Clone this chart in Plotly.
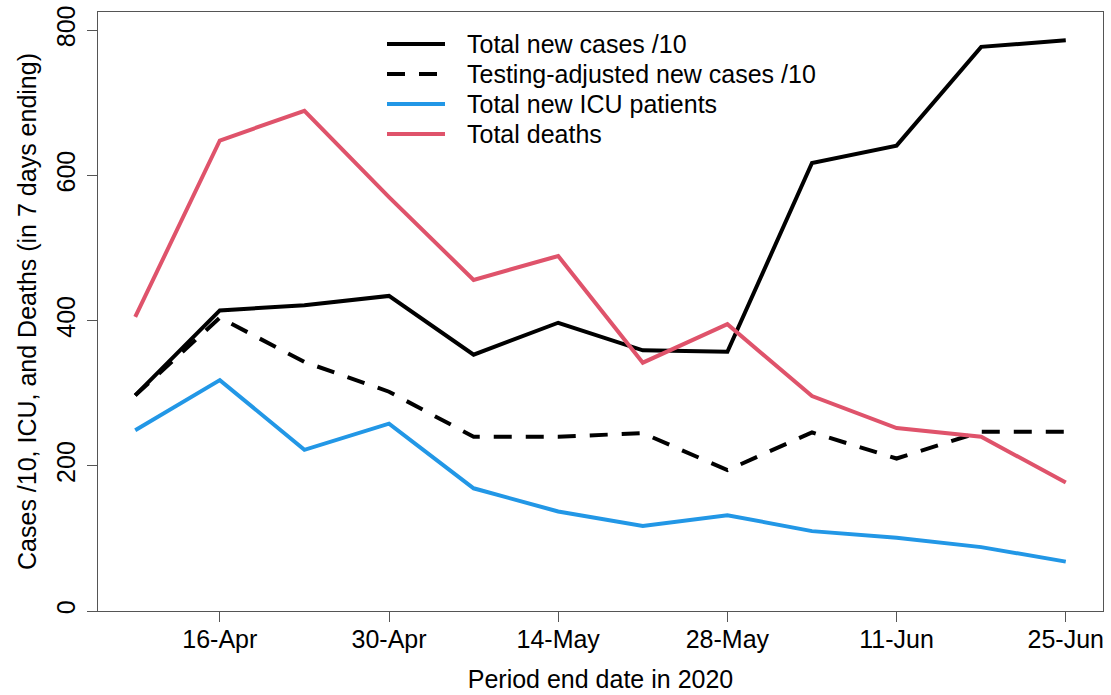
import pandas as pd
import plotly.graph_objects as go

dates = ["2020-04-09", "2020-04-16", "2020-04-23", "2020-04-30", "2020-05-07", "2020-05-14",
         "2020-05-21", "2020-05-28", "2020-06-04", "2020-06-11", "2020-06-18", "2020-06-25"]
total_cases_10 = [297, 414, 421, 434, 353, 397, 359, 357, 617, 641, 777, 786]
adj_cases_10 = [297, 404, 343, 302, 240, 240, 245, 194, 246, 210, 247, 247]
icu = [249, 318, 222, 258, 169, 137, 117, 132, 110, 101, 88, 68]
deaths = [405, 648, 689, 570, 456, 489, 342, 395, 296, 252, 240, 177]

tick_dates = ["2020-04-16", "2020-04-30", "2020-05-14", "2020-05-28", "2020-06-11", "2020-06-25"]
tick_labels = ["16-Apr", "30-Apr", "14-May", "28-May", "11-Jun", "25-Jun"]
y_ticks = [0, 200, 400, 600, 800]

series_names = ["Total new cases /10", "Testing-adjusted new cases /10",
                "Total new ICU patients", "Total deaths"]
series_colors = ["black", "black", "#2297E6", "#DF536B"]
series_dash = ["solid", "18px,14px", "solid", "solid"]
series_values = [total_cases_10, adj_cases_10, icu, deaths]

FONT = "Liberation Sans, Arial, sans-serif"
LW = 4

W, H = 1111, 695
ML, MR, MT, MB = 98, 8, 12, 84

fig = go.Figure()
for name, vals, col, dsh in zip(series_names, series_values, series_colors, series_dash):
    fig.add_trace(go.Scatter(x=dates, y=vals, mode="lines", name=name, showlegend=False,
                             line=dict(color=col, width=LW, dash=dsh)))

# legend drawn in R style (no box): key line then text
pw, ph = W - ML - MR, H - MT - MB
def px2paper_x(px):
    return (px - ML) / pw
def px2paper_y(py):
    return (H - MB - py) / ph

leg_top, leg_step = 44, 30
for i, (name, col, dsh) in enumerate(zip(series_names, series_colors, series_dash)):
    yy = px2paper_y(leg_top + i * leg_step)
    fig.add_shape(type="line", xref="paper", yref="paper",
                  x0=px2paper_x(387), x1=px2paper_x(445), y0=yy, y1=yy,
                  line=dict(color=col, width=LW, dash=dsh))
    fig.add_annotation(xref="paper", yref="paper", x=px2paper_x(465), y=yy,
                       xanchor="left", yanchor="middle", text=name, showarrow=False,
                       font=dict(size=25, family=FONT, color="black"))

d0 = pd.Timestamp(dates[0]); d1 = pd.Timestamp(dates[-1])
pad = (d1 - d0) * 0.04
xr = [str(d0 - pad), str(d1 + pad)]

axis_common = dict(showgrid=False, zeroline=False, showline=True, linecolor="#555",
                   linewidth=1, mirror=True, ticks="outside", ticklen=10, tickcolor="#555",
                   tickwidth=1, automargin=False,
                   tickfont=dict(size=25, color="black", family=FONT))

fig.update_layout(
    width=W, height=H,
    margin=dict(l=ML, r=MR, t=MT, b=MB),
    paper_bgcolor="white", plot_bgcolor="white",
    font=dict(family=FONT, size=25, color="black"),
    showlegend=False,
    xaxis=dict(range=xr, tickmode="array", tickvals=tick_dates, ticktext=tick_labels,
               ticklabelstandoff=-4,
               title=dict(text="Period end date in 2020", standoff=18,
                          font=dict(size=25, family=FONT, color="black")),
               **axis_common),
    yaxis=dict(range=[0, 825], tickmode="array", tickvals=y_ticks, tickangle=-90,
               ticklabelstandoff=2,
               title=dict(text="Cases /10, ICU, and Deaths (in 7 days ending)", standoff=8,
                          font=dict(size=25, family=FONT, color="black")),
               **axis_common),
)

fig.write_html("out.html", config={"displayModeBar": False},
               post_script="document.body.style.margin='0';")
